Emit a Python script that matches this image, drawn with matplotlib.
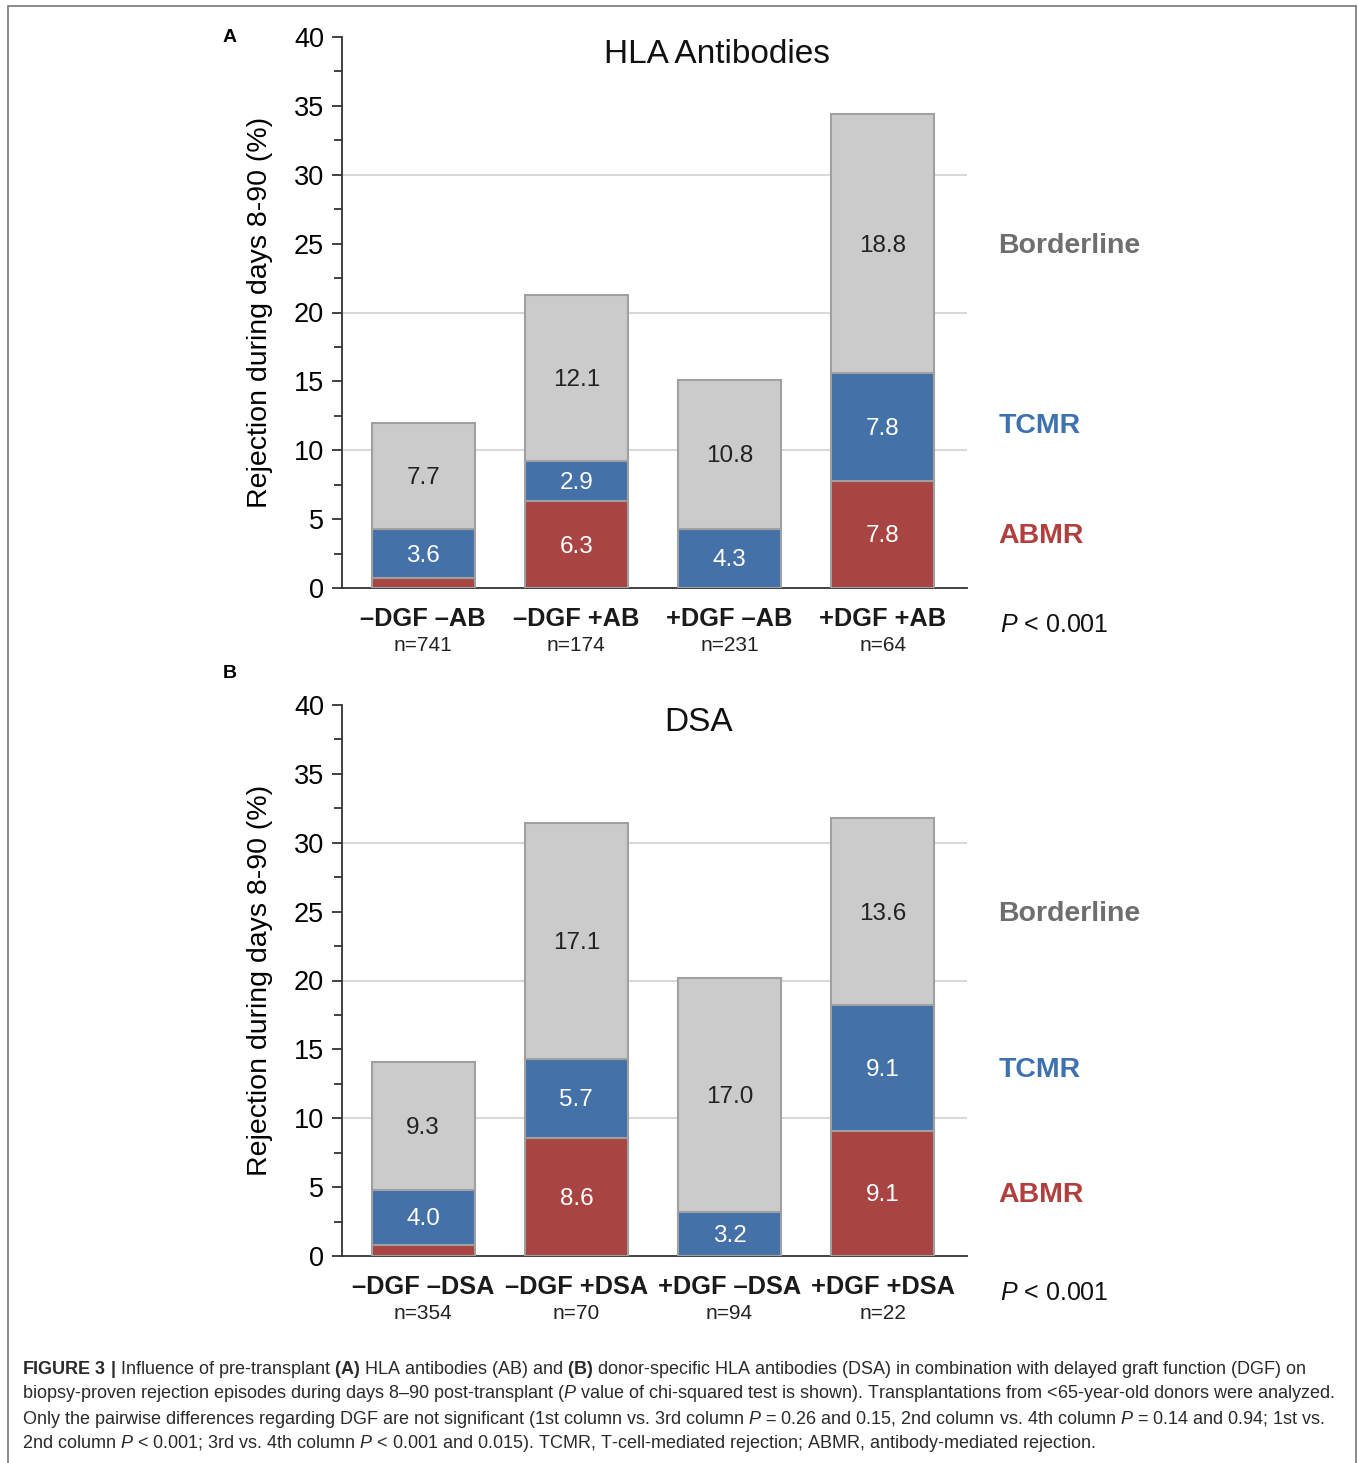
import numpy as np
import matplotlib
matplotlib.use("Agg")
import matplotlib.pyplot as plt
from matplotlib.patches import Rectangle

plt.rcParams["font.family"] = ["Liberation Sans", "DejaVu Sans"]
plt.rcParams["mathtext.fontset"] = "custom"
plt.rcParams["mathtext.rm"] = "Liberation Sans"
plt.rcParams["mathtext.it"] = "Liberation Sans:italic"
plt.rcParams["mathtext.bf"] = "Liberation Sans:bold"

# data
cats_a = ["\u2013DGF \u2013AB", "\u2013DGF +AB", "+DGF \u2013AB", "+DGF +AB"]
n_a = [741, 174, 231, 64]
abmr_a = [0.7, 6.3, 0.0, 7.8]
tcmr_a = [3.6, 2.9, 4.3, 7.8]
border_a = [7.7, 12.1, 10.8, 18.8]

cats_b = ["\u2013DGF \u2013DSA", "\u2013DGF +DSA", "+DGF \u2013DSA", "+DGF +DSA"]
n_b = [354, 70, 94, 22]
abmr_b = [0.8, 8.6, 0.0, 9.1]
tcmr_b = [4.0, 5.7, 3.2, 9.1]
border_b = [9.3, 17.1, 17.0, 13.6]

GREY = "#CBCBCB"
BLUE = "#4471A7"
RED = "#A84442"
EDGE = "#A0A0A0"

W, H = 1358, 1463
fig = plt.figure(figsize=(W / 100, H / 100), dpi=100)


def panel(rect, title, title_x, cats, ns, abmr, tcmr, border, letter, letter_y, lab_y):
    ax = fig.add_axes(rect)
    x = np.arange(len(cats))
    abmr = np.array(abmr)
    tcmr = np.array(tcmr)
    border = np.array(border)
    bw = 0.67
    ax.bar(x, abmr, bw, color=RED, edgecolor=EDGE, linewidth=1.5, zorder=3)
    ax.bar(x, tcmr, bw, bottom=abmr, color=BLUE, edgecolor=EDGE, linewidth=1.5, zorder=3)
    ax.bar(x, border, bw, bottom=abmr + tcmr, color=GREY, edgecolor=EDGE, linewidth=1.5, zorder=3)

    dy = -0.15  # small nudge so labels sit like the original
    for i in range(len(x)):
        if abmr[i] >= 1:
            ax.text(x[i], abmr[i] / 2 + dy, f"{abmr[i]:.1f}", ha="center", va="center",
                    color="white", fontsize=17.5, zorder=4)
        ax.text(x[i], abmr[i] + tcmr[i] / 2 + dy, f"{tcmr[i]:.1f}", ha="center", va="center",
                color="white", fontsize=17.5, zorder=4)
        ax.text(x[i], abmr[i] + tcmr[i] + border[i] / 2 + dy, f"{border[i]:.1f}", ha="center",
                va="center", color="#222222", fontsize=17.5, zorder=4)

    ax.set_xlim(-0.53, 3.55)
    ax.set_ylim(0, 40)
    ax.set_yticks(np.arange(0, 41, 5))
    ax.set_yticks(np.arange(2.5, 40, 5), minor=True)
    ax.tick_params(axis="y", labelsize=19.5, length=7, width=1.3, color="#333333", pad=6)
    ax.tick_params(axis="y", which="minor", length=6, width=1.3, color="#333333")
    ax.set_xticks([])
    for yg in [10, 20, 30]:
        ax.axhline(yg, color="#D8D8D8", linewidth=1.5, zorder=1)
    ax.spines["top"].set_visible(False)
    ax.spines["right"].set_visible(False)
    for s in ["left", "bottom"]:
        ax.spines[s].set_linewidth(1.3)
        ax.spines[s].set_color("#333333")
    ax.set_ylabel("Rejection during days 8-90 (%)", fontsize=20.5, labelpad=15)

    tr = ax.get_xaxis_transform()
    for i in range(len(x)):
        ax.text(x[i], -0.056, cats[i], transform=tr, ha="center", va="center",
                fontsize=18.3, fontweight="bold", color="#1a1a1a")
        ax.text(x[i], -0.104, f"n={ns[i]}", transform=tr, ha="center", va="center",
                fontsize=15, color="#222222")

    ty = ax.get_yaxis_transform()
    ax.text(title_x, 38.7, title, ha="center", va="center", fontsize=24,
            transform=ty, color="#111111")

    ax.text(1.05, lab_y[0], "Borderline", transform=ty, ha="left", va="center",
            fontsize=20.5, fontweight="bold", color="#6E6E6E")
    ax.text(1.05, lab_y[1], "TCMR", transform=ty, ha="left", va="center",
            fontsize=20.5, fontweight="bold", color="#3E71AF")
    ax.text(1.05, lab_y[2], "ABMR", transform=ty, ha="left", va="center",
            fontsize=20.5, fontweight="bold", color="#B03F3D")
    ax.text(1.053, -0.068, "$P$ < 0.001", transform=ax.transAxes, ha="left", va="center",
            fontsize=18, color="#111111")

    fig.text(230 / W, 1 - letter_y / H, letter, ha="center", va="center",
             fontsize=14, fontweight="bold")
    return ax


axh = 551 / H
axw = 625 / W
panel([342 / W, 1 - 588 / H, axw, axh], "HLA Antibodies", 0.6, cats_a, n_a,
      abmr_a, tcmr_a, border_a, "A", 37, (24.85, 11.75, 3.8))
panel([342 / W, 1 - 1256 / H, axw, axh], "DSA", 0.57, cats_b, n_b,
      abmr_b, tcmr_b, border_b, "B", 673, (24.85, 13.5, 4.45))

caption = [
    r"$\mathbf{FIGURE\ 3\ |}$ Influence of pre-transplant $\mathbf{(A)}$ HLA antibodies (AB) and "
    r"$\mathbf{(B)}$ donor-specific HLA antibodies (DSA) in combination with delayed graft function (DGF) on",
    "biopsy-proven rejection episodes during days 8\u201390 post-transplant ($P$ value of chi-squared test "
    "is shown). Transplantations from <65-year-old donors were analyzed.",
    r"Only the pairwise differences regarding DGF are not significant (1st column vs. 3rd column $P$ = 0.26 "
    r"and 0.15, 2nd column vs. 4th column $P$ = 0.14 and 0.94; 1st vs.",
    r"2nd column $P$ < 0.001; 3rd vs. 4th column $P$ < 0.001 and 0.015). TCMR, T-cell-mediated rejection; "
    r"ABMR, antibody-mediated rejection.",
]
for k, line in enumerate(caption):
    fig.text(22 / W, 1 - (1369 + 25 * k) / H, line, ha="left", va="center",
             fontsize=13.0, color="#2a2a2a")

fig.patches.append(Rectangle((8 / W, -0.01), 1348 / W, 1.01 - 6 / H, transform=fig.transFigure,
                             fill=False, edgecolor="#777777", linewidth=1.2))

fig.savefig("out.png", dpi=100)
